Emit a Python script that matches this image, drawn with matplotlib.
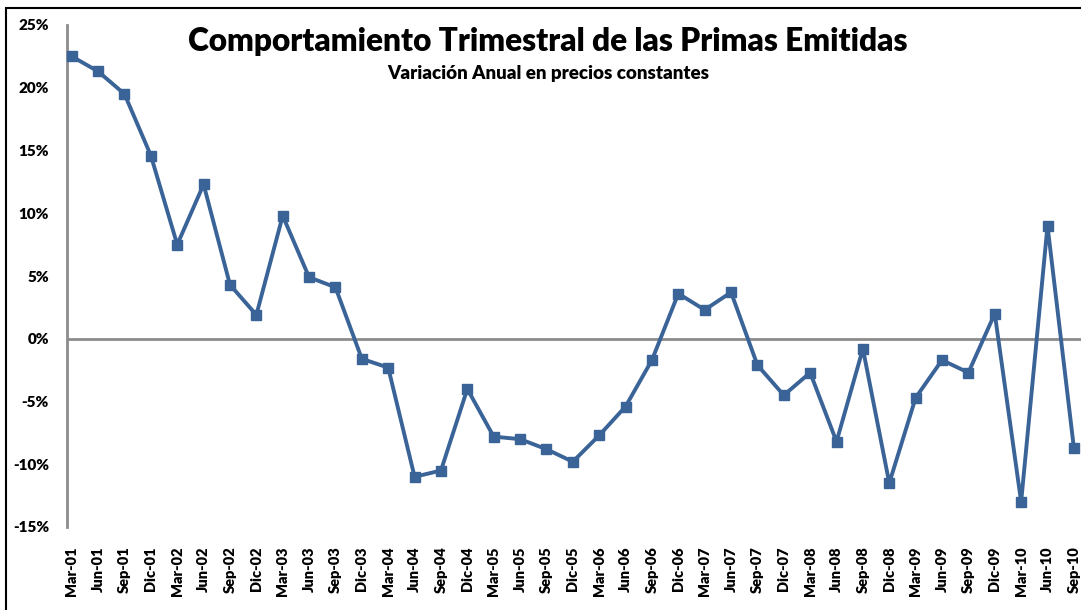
import matplotlib
matplotlib.use("Agg")
from matplotlib import pyplot as plt
from matplotlib.patches import Rectangle
from matplotlib.ticker import FuncFormatter

plt.rcParams['font.family'] = ['Lato', 'DejaVu Sans']

quarters = ['Mar', 'Jun', 'Sep', 'Dic']
labels = []
for yr in range(1, 11):
    for q in quarters:
        labels.append('%s-%02d' % (q, yr))
labels = labels[:39]

variacion = [22.5, 21.3, 19.5, 14.6, 7.5, 12.3, 4.3, 1.9, 9.8, 4.9,
             4.1, -1.6, -2.3, -11.0, -10.5, -4.0, -7.8, -8.0, -8.8, -9.8,
             -7.7, -5.4, -1.7, 3.6, 2.3, 3.7, -2.1, -4.5, -2.7, -8.2,
             -0.8, -11.5, -4.7, -1.7, -2.7, 2.0, -13.0, 9.0, -8.7]

W, H = 1081, 610
fig = plt.figure(figsize=(W / 100, H / 100), dpi=100)
ax = fig.add_axes([67 / W, 83 / H, 1 - 67 / W, 502 / H])

x = list(range(len(variacion)))
ax.plot(x, variacion, color='#3A6398', lw=2.8, marker='s', ms=6.5,
        mec='#3A6398', mfc='#3A6398', clip_on=False, zorder=3)

ax.set_xlim(-0.18, 38.27)
ax.set_ylim(-15, 25)
ax.set_yticks(range(-15, 26, 5))
ax.yaxis.set_major_formatter(FuncFormatter(lambda v, p: '%d%%' % v))
ax.set_xticks(x)
ax.set_xticklabels(labels, rotation=90, fontweight='heavy', fontsize=10.5)
for t in ax.get_yticklabels():
    t.set_fontweight('heavy')
    t.set_fontsize(11)
ax.tick_params(axis='y', length=0, pad=13)
ax.tick_params(axis='x', length=0, pad=14)

for s in ['top', 'right', 'bottom']:
    ax.spines[s].set_visible(False)
ax.spines['left'].set_color('#8c8c8c')
ax.spines['left'].set_linewidth(2)
ax.axhline(0, color='#8c8c8c', lw=2, zorder=2)

fig.text(548 / W, 1 - 42 / H, 'Comportamiento Trimestral de las Primas Emitidas',
         ha='center', va='center', fontsize=22.8, fontweight='heavy')
fig.text(548 / W, 1 - 73 / H, 'Variación Anual en precios constantes',
         ha='center', va='center', fontsize=13.5, fontweight='heavy')

fig.patches.append(Rectangle((6 / W, -0.1), 1.2, 1 - 8 / H + 0.1,
                             transform=fig.transFigure, fill=False,
                             edgecolor='black', lw=1.5))

fig.savefig('out.png', dpi=100)
